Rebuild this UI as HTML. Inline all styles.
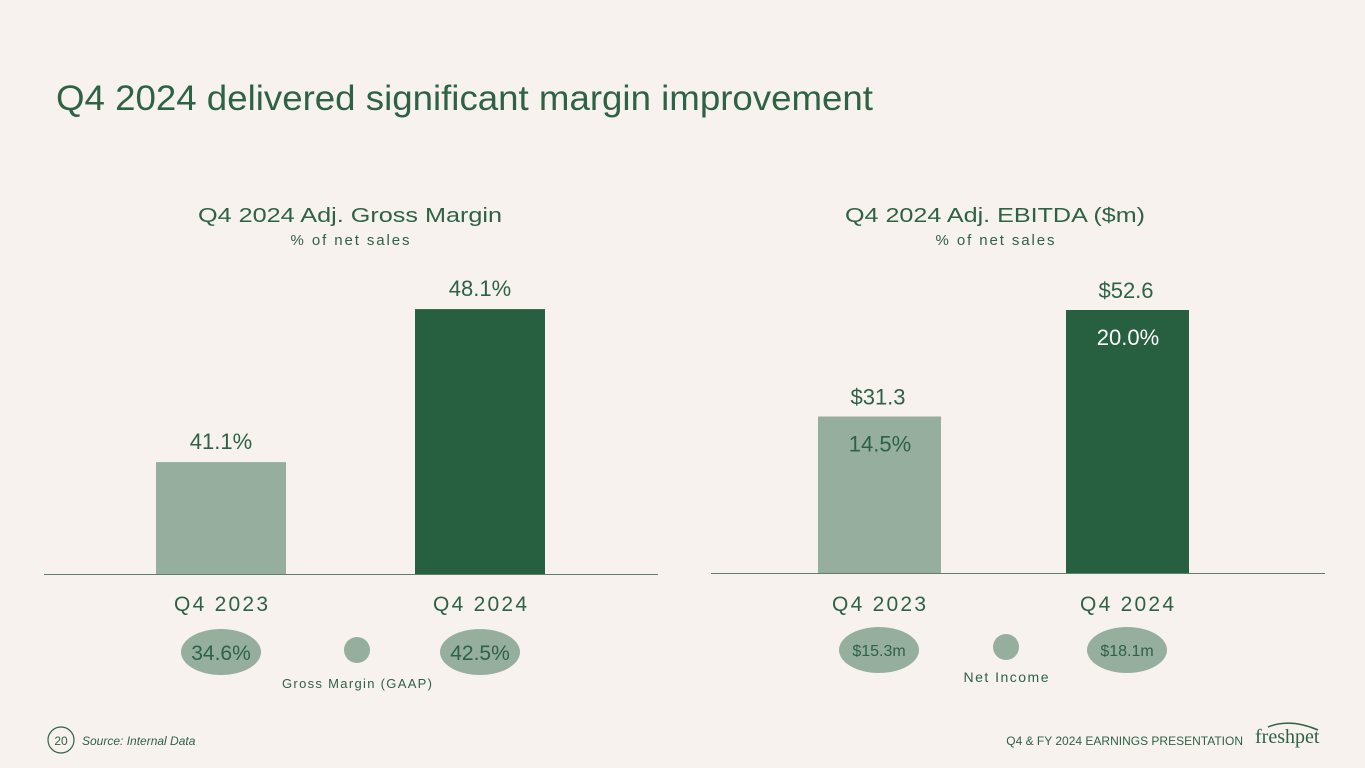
<!DOCTYPE html>
<html><head><meta charset="utf-8"><style>
body{margin:0;width:1365px;height:768px;background:#f7f2ee;overflow:hidden;font-family:"Liberation Sans",sans-serif}
svg{position:absolute;left:0;top:0}
</style></head><body>
<svg id="s" width="1365" height="768">
<text x="56" y="110" font-size="35" fill="#2e6245" textLength="817" lengthAdjust="spacingAndGlyphs">Q4 2024 delivered significant margin improvement</text>
<text x="350" y="222" font-size="20" fill="#2e6245" text-anchor="middle" textLength="304" lengthAdjust="spacingAndGlyphs">Q4 2024 Adj. Gross Margin</text>
<text x="350" y="245" font-size="15" fill="#2e6245" text-anchor="middle" textLength="119">% of net sales</text>
<text x="995" y="222" font-size="20" fill="#2e6245" text-anchor="middle" textLength="300" lengthAdjust="spacingAndGlyphs">Q4 2024 Adj. EBITDA ($m)</text>
<text x="995" y="245" font-size="15" fill="#2e6245" text-anchor="middle" textLength="119">% of net sales</text>
<line x1="44" y1="574.5" x2="658" y2="574.5" stroke="#5f7f6a" stroke-width="1"/>
<line x1="711" y1="573.5" x2="1325" y2="573.5" stroke="#5f7f6a" stroke-width="1"/>
<g id="L"></g><g id="R"></g>
<circle cx="357" cy="650" r="13" fill="#96ae9d"/>
<text x="357" y="688" font-size="13" fill="#2e6245" text-anchor="middle" textLength="150">Gross Margin (GAAP)</text>
<circle cx="1006" cy="647" r="13" fill="#96ae9d"/>
<text x="1006" y="682" font-size="14" fill="#2e6245" text-anchor="middle" textLength="85">Net Income</text>
<circle cx="61" cy="740" r="13" fill="none" stroke="#2e6245" stroke-width="1.2"/>
<text x="61" y="745" font-size="12" fill="#2e6245" text-anchor="middle">20</text>
<text x="82" y="745" font-size="12" font-style="italic" fill="#2e6245">Source: Internal Data</text>
<text x="1243" y="745" font-size="12" fill="#2e6245" text-anchor="end">Q4 &amp; FY 2024 EARNINGS PRESENTATION</text>
<text x="1255" y="743" font-size="20" fill="#2e6245" font-family="Liberation Serif,serif">freshpet</text>
<path d="M1268 727 Q1290 718 1318 730" fill="none" stroke="#2e6245" stroke-width="1.5"/>
</svg>
<script>
const leftCats=["Q4 2023","Q4 2024"];
const leftVals=[41.1,48.1];
const leftLabels=["41.1%","48.1%"];
const leftGaap=["34.6%","42.5%"];
const rightCats=["Q4 2023","Q4 2024"];
const rightVals=[31.3,52.6];
const rightLabels=["$31.3","$52.6"];
const rightPct=["14.5%","20.0%"];
const rightNet=["$15.3m","$18.1m"];
const colors=["#96ae9d","#266040"];
const NS="http://www.w3.org/2000/svg";
function mk(p,t,a,txt){const e=document.createElementNS(NS,t);for(const k in a)e.setAttribute(k,a[k]);if(txt!=null)e.textContent=txt;p.appendChild(e);return e;}
const yL=v=>574-(v-35.98)*21.857;
const yR=v=>573-v*5.0;
const L=document.getElementById('L'),R=document.getElementById('R');
const lx=[156,415];
leftVals.forEach((v,i)=>{
 const b=mk(L,'rect',{x:lx[i],y:yL(v),width:130,height:574-yL(v),fill:colors[i]});
 
 const c=lx[i]+65;
 const t=mk(L,'text',{x:c,y:yL(v)-13,'font-size':22,fill:'#2e6245','text-anchor':'middle'},leftLabels[i]);
 
 const cl=mk(L,'text',{x:c,y:611,'font-size':21,fill:'#2e6245','text-anchor':'middle',textLength:94},leftCats[i]);
 
 const e=mk(L,'ellipse',{cx:c,cy:652,rx:40,ry:23,fill:'#96ae9d'});
 
 const et=mk(L,'text',{x:c,y:660,'font-size':21,fill:'#2e6245','text-anchor':'middle'},leftGaap[i]);
 
});
const rx=[818,1066];
rightVals.forEach((v,i)=>{
 const b=mk(R,'rect',{x:rx[i],y:yR(v),width:123,height:573-yR(v),fill:colors[i]});
 
 const c=rx[i]+62;
 const t=mk(R,'text',{x:c-2,y:yR(v)-12,'font-size':22,fill:'#2e6245','text-anchor':'middle'},rightLabels[i]);
 
 const p=mk(R,'text',{x:c,y:yR(v)+35,'font-size':22,fill:i?'#ffffff':'#2e6245','text-anchor':'middle'},rightPct[i]);
 
 const cl=mk(R,'text',{x:c-1,y:611,'font-size':21,fill:'#2e6245','text-anchor':'middle',textLength:94},rightCats[i]);
 
 const e=mk(R,'ellipse',{cx:c-1,cy:650,rx:40,ry:23,fill:'#96ae9d'});
 
 const et=mk(R,'text',{x:c-1,y:656,'font-size':16,fill:'#2e6245','text-anchor':'middle'},rightNet[i]);
 
});
</script>
</body></html>
